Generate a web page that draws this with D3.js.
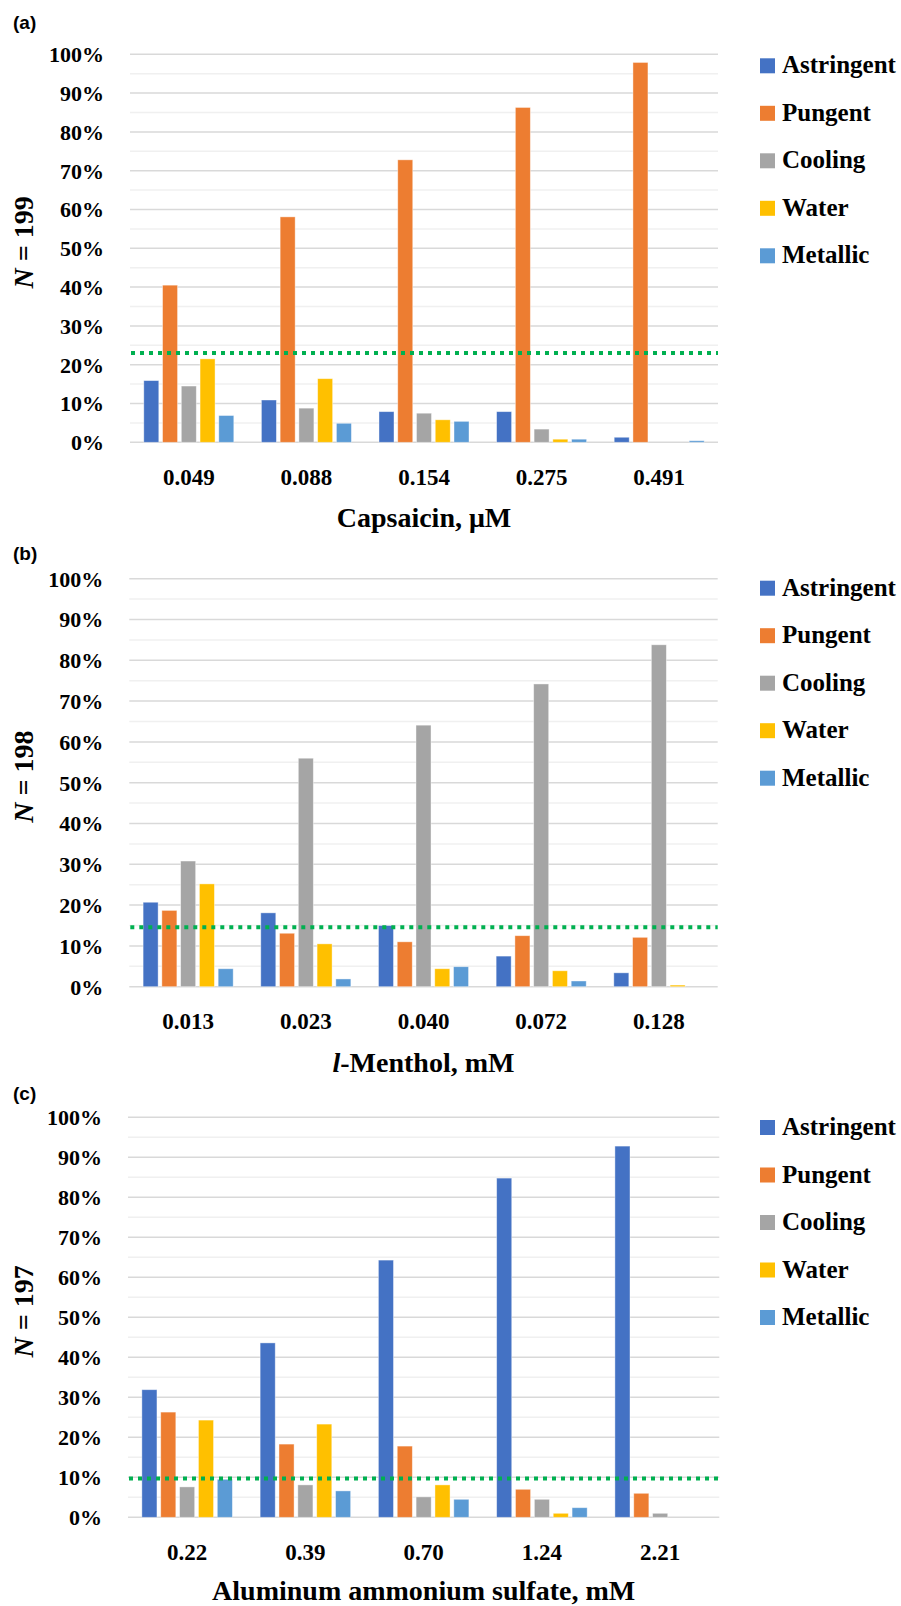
<!DOCTYPE html>
<html>
<head>
<meta charset="utf-8">
<script src="https://cdn.jsdelivr.net/npm/d3@7"></script>
<style>
  body { margin: 0; background: #fff; }
  svg { display: block; }
</style>
</head>
<body>
<div id="chart"></div>
<script>
/* Data (percent of panelists) */
var series = ["Astringent", "Pungent", "Cooling", "Water", "Metallic"];
var seriesColors = ["#4472C4", "#ED7D31", "#A5A5A5", "#FFC000", "#5B9BD5"];
var yTicks = [0, 10, 20, 30, 40, 50, 60, 70, 80, 90, 100];

var capsaicinDoses = ["0.049", "0.088", "0.154", "0.275", "0.491"];
var capsaicinPct = [
  [15.9, 10.9, 7.9, 7.9, 1.3],   // Astringent
  [40.5, 58.1, 72.8, 86.3, 97.9], // Pungent
  [14.5, 8.8, 7.5, 3.4, 0],       // Cooling
  [21.5, 16.4, 5.8, 0.8, 0],      // Water
  [6.9, 4.9, 5.4, 0.8, 0.4]       // Metallic
];
var capsaicinThreshold = 23.0;

var mentholDoses = ["0.013", "0.023", "0.040", "0.072", "0.128"];
var mentholPct = [
  [20.7, 18.1, 15.0, 7.5, 3.4],
  [18.7, 13.1, 11.0, 12.5, 12.1],
  [30.8, 56.0, 64.1, 74.2, 83.8],
  [25.2, 10.5, 4.4, 3.9, 0.4],
  [4.4, 1.9, 4.9, 1.4, 0]
];
var mentholThreshold = 14.6;

var alumDoses = ["0.22", "0.39", "0.70", "1.24", "2.21"];
var alumPct = [
  [31.9, 43.6, 64.3, 84.8, 92.8],
  [26.3, 18.3, 17.8, 7.0, 6.0],
  [7.6, 8.1, 5.1, 4.5, 1.0],
  [24.3, 23.3, 8.1, 1.0, 0],
  [9.5, 6.6, 4.5, 2.4, 0]
];
var alumThreshold = 9.7;

var W = 901, H = 1606;
var serif = "'Liberation Serif', 'Times New Roman', serif";

var svg = d3.select("#chart").append("svg")
  .attr("width", W).attr("height", H)
  .attr("viewBox", "0 0 " + W + " " + H)
  .style("background", "#fff");

function drawPanel(p) {
  var g = svg.append("g");
  var x0 = d3.scaleBand().domain(p.doses).range([p.left, p.right]);
  var bw = x0.bandwidth();
  var x1 = d3.scaleBand().domain(series)
    .range([bw * 0.1173, bw * 0.8827])
    .paddingInner(0.2);
  var y = d3.scaleLinear().domain([0, 100]).range([p.bottom, p.top]);

  /* minor gridlines (5%) */
  g.selectAll("line.minor").data(d3.range(5, 100, 10)).enter().append("line")
    .attr("x1", p.left).attr("x2", p.right)
    .attr("y1", function (d) { return y(d); }).attr("y2", function (d) { return y(d); })
    .attr("stroke", "#f0f0f0").attr("stroke-width", 1.5);

  /* major gridlines */
  g.selectAll("line.major").data(yTicks).enter().append("line")
    .attr("x1", p.left).attr("x2", p.right)
    .attr("y1", function (d) { return y(d); }).attr("y2", function (d) { return y(d); })
    .attr("stroke", "#d9d9d9").attr("stroke-width", 1.5);

  /* y axis labels */
  var yAxis = d3.axisLeft(y).tickValues(yTicks).tickSize(0).tickPadding(0)
    .tickFormat(function (d) { return d + "%"; });
  var ya = g.append("g").attr("transform", "translate(" + (p.left - 26) + ",0)").call(yAxis);
  ya.attr("font-family", null).attr("font-size", null);
  ya.select(".domain").remove();
  ya.selectAll("text")
    .style("font-family", serif).style("font-size", "22px").style("font-weight", "bold")
    .attr("fill", "#000").attr("dy", "0.34em");

  /* bars */
  var grp = g.selectAll("g.grp").data(p.doses).enter().append("g")
    .attr("transform", function (d) { return "translate(" + x0(d) + ",0)"; });
  grp.selectAll("rect").data(function (d, i) {
    return series.map(function (s, k) { return { s: s, k: k, v: p.values[k][i] }; });
  }).enter().append("rect")
    .filter(function (d) { return d.v > 0; })
    .attr("x", function (d) { return x1(d.s); })
    .attr("width", x1.bandwidth())
    .attr("y", function (d) { return y(d.v); })
    .attr("height", function (d) { return y(0) - y(d.v); })
    .attr("fill", function (d) { return seriesColors[d.k]; })
    .attr("stroke", "#fff").attr("stroke-opacity", 0.5).attr("stroke-width", 0.8);

  /* threshold dotted line */
  g.append("line")
    .attr("x1", p.left + 1).attr("x2", p.right)
    .attr("y1", y(p.threshold)).attr("y2", y(p.threshold))
    .attr("stroke", "#00B050").attr("stroke-width", 4)
    .attr("stroke-dasharray", "4,5");

  /* x axis labels */
  var xAxis = d3.axisBottom(x0).tickSize(0).tickPadding(0);
  var xa = g.append("g").attr("transform", "translate(0," + (p.bottom + 42.7) + ")").call(xAxis);
  xa.attr("font-family", null).attr("font-size", null);
  xa.select(".domain").remove();
  xa.selectAll("text")
    .style("font-family", serif).style("font-size", "23px").style("font-weight", "bold")
    .attr("fill", "#000").attr("dy", 0);

  /* x axis title */
  var xt = g.append("text")
    .attr("x", (p.left + p.right) / 2).attr("y", p.bottom + p.titleGap)
    .attr("text-anchor", "middle")
    .attr("font-family", serif).attr("font-size", 28).attr("font-weight", "bold");
  p.title.forEach(function (t) {
    xt.append("tspan").attr("font-style", t[1] ? "italic" : null).text(t[0]);
  });

  /* y axis title */
  var cy = (p.top + p.bottom) / 2 - 6;
  var yt = g.append("text")
    .attr("transform", "translate(33," + cy + ") rotate(-90)")
    .attr("text-anchor", "middle")
    .attr("font-family", serif).attr("font-size", 28).attr("font-weight", "bold");
  yt.append("tspan").attr("font-style", "italic").text("N");
  yt.append("tspan").text(" = " + p.n);

  /* panel label */
  g.append("text")
    .attr("x", 13).attr("y", p.labelY)
    .attr("font-family", "'Liberation Sans', Arial, sans-serif")
    .attr("font-size", 19).attr("font-weight", "bold")
    .text(p.label);

  /* legend */
  var lg = g.selectAll("g.leg").data(series).enter().append("g")
    .attr("transform", function (d, i) { return "translate(760," + (p.legendTop + i * 47.5) + ")"; });
  lg.append("rect").attr("width", 15).attr("height", 15)
    .attr("fill", function (d, i) { return seriesColors[i]; });
  lg.append("text").attr("x", 22).attr("y", 15)
    .attr("font-family", serif).attr("font-size", 25).attr("font-weight", "bold")
    .text(function (d) { return d; });
}

drawPanel({
  label: "(a)", labelY: 29, doses: capsaicinDoses, values: capsaicinPct,
  threshold: capsaicinThreshold, n: 199,
  title: [["Capsaicin, \u03bcM", false]],
  left: 130, right: 718, top: 54.3, bottom: 442.3, titleGap: 84.7, legendTop: 58.3
});
drawPanel({
  label: "(b)", labelY: 560, doses: mentholDoses, values: mentholPct,
  threshold: mentholThreshold, n: 198,
  title: [["l", true], ["-Menthol, mM", false]],
  left: 129.3, right: 717.7, top: 578.7, bottom: 986.7, titleGap: 85, legendTop: 580.7
});
drawPanel({
  label: "(c)", labelY: 1100, doses: alumDoses, values: alumPct,
  threshold: alumThreshold, n: 197,
  title: [["Aluminum ammonium sulfate, mM", false]],
  left: 128, right: 719.3, top: 1117.3, bottom: 1517.3, titleGap: 82.7, legendTop: 1120
});
</script>
</body>
</html>
